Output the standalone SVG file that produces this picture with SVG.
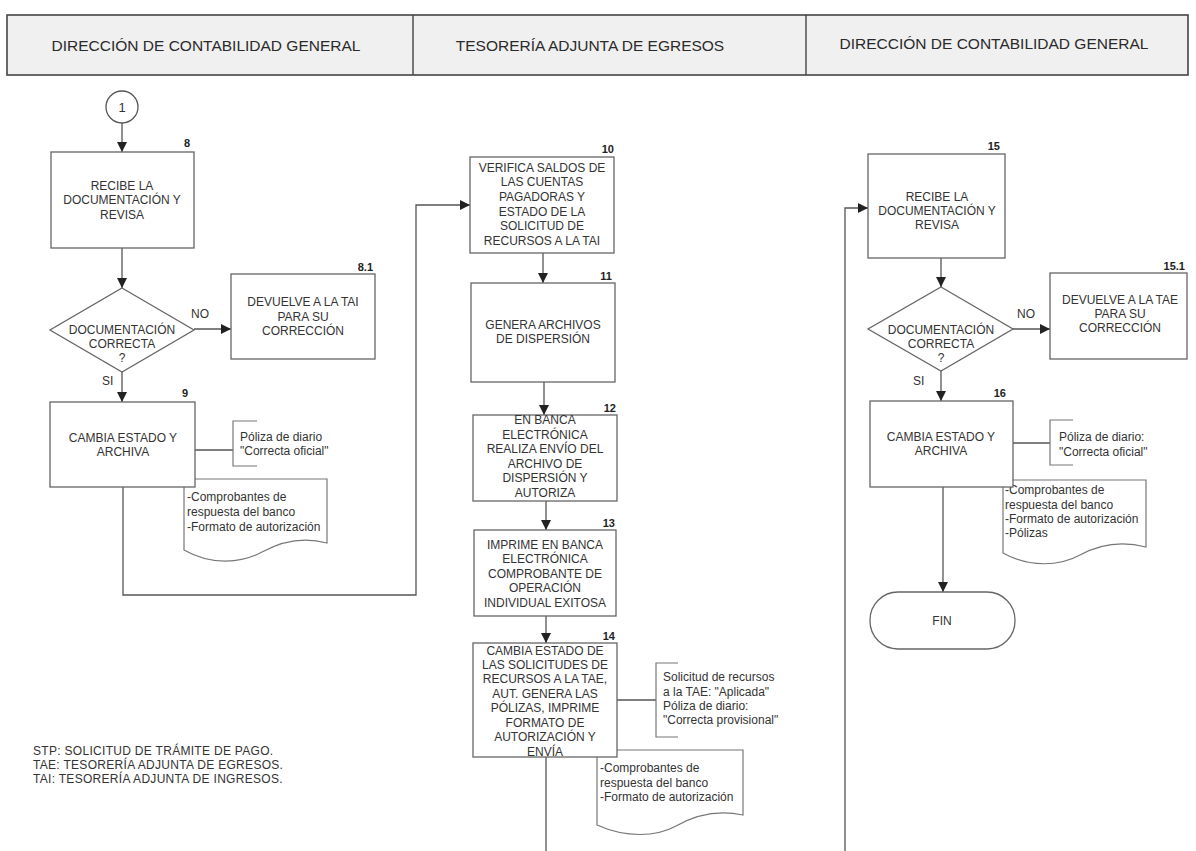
<svg xmlns="http://www.w3.org/2000/svg" width="1196" height="851" viewBox="0 0 1196 851">
  <defs>
    <marker id="arrow" viewBox="0 0 10 10" refX="10" refY="5" markerWidth="10" markerHeight="10" markerUnits="userSpaceOnUse" orient="auto">
      <path d="M0,0 L10,5 L0,10 Z" fill="#222"/>
    </marker>
    <style>
      text { font-family: "Liberation Sans", Arial, sans-serif; fill: #333; }
      .hdr { font-size: 15.5px; text-anchor: middle; fill: #2a2a2a; }
      .lbl { font-size: 12px; text-anchor: middle; }
      .num { font-size: 11px; font-weight: bold; text-anchor: end; fill: #222; }
      .note { font-size: 12px; }
      .leg { font-size: 12px; letter-spacing: 0.3px; }
      .box { fill: #fff; stroke: #666; stroke-width: 1.3; }
      .doc { fill: #fff; stroke: #777; stroke-width: 1.2; }
      .brk { fill: none; stroke: #777; stroke-width: 1.2; }
      .wire { fill: none; stroke: #555; stroke-width: 1.3; }
      .arw { fill: none; stroke: #555; stroke-width: 1.3; marker-end: url(#arrow); }
    </style>
  </defs>
  <rect width="1196" height="851" fill="#fff"/>

  <!-- swimlane header -->
  <g id="header">
    <rect x="7" y="15" width="1181" height="60" fill="#f0f0f0" stroke="#444" stroke-width="1.6"/>
    <line x1="413" y1="15" x2="413" y2="75" stroke="#444" stroke-width="1.4"/>
    <line x1="806" y1="15" x2="806" y2="75" stroke="#444" stroke-width="1.4"/>
    <text class="hdr" x="206" y="51">DIRECCIÓN DE CONTABILIDAD GENERAL</text>
    <text class="hdr" x="590" y="51">TESORERÍA ADJUNTA DE EGRESOS</text>
    <text class="hdr" x="994" y="49">DIRECCIÓN DE CONTABILIDAD GENERAL</text>
  </g>

  <!-- connectors -->
  <g id="connectors">
    <line class="arw" x1="122" y1="123" x2="122" y2="152"/>
    <line class="arw" x1="122" y1="248" x2="122" y2="288"/>
    <line class="arw" x1="194" y1="329" x2="231" y2="329"/>
    <line class="arw" x1="122" y1="372" x2="122" y2="402"/>
    <line class="wire" x1="195" y1="450" x2="233" y2="450"/>
    <polyline class="arw" points="123,487 123,595 416,595 416,205 470,205"/>
    <line class="arw" x1="543" y1="253" x2="543" y2="283"/>
    <line class="arw" x1="544" y1="382" x2="544" y2="415"/>
    <line class="arw" x1="546" y1="501" x2="546" y2="530"/>
    <line class="arw" x1="546" y1="616" x2="546" y2="643"/>
    <line class="wire" x1="617" y1="700" x2="656" y2="700"/>
    <line class="wire" x1="546" y1="757" x2="546" y2="851"/>
    <polyline class="arw" points="845,851 845,208 868,208"/>
    <line class="arw" x1="941" y1="258" x2="941" y2="287"/>
    <line class="arw" x1="1013" y1="329" x2="1050" y2="329"/>
    <line class="arw" x1="941" y1="371" x2="941" y2="401"/>
    <line class="wire" x1="1013" y1="443" x2="1050" y2="443"/>
    <line class="arw" x1="943" y1="487" x2="943" y2="592"/>
  </g>

  <!-- off-page connector 1 -->
  <g id="n-conector-1">
    <circle cx="122" cy="107" r="16" fill="#fff" stroke="#555" stroke-width="1.3"/>
    <text class="lbl" x="122" y="112" style="font-size:13px">1</text>
  </g>

  <!-- step 8 -->
  <g id="n-8">
    <rect class="box" x="51" y="152" width="143" height="96"/>
    <text class="num" x="190" y="147">8</text>
    <text class="lbl" x="122" y="190">RECIBE LA</text>
    <text class="lbl" x="122" y="204">DOCUMENTACIÓN Y</text>
    <text class="lbl" x="122" y="219">REVISA</text>
  </g>

  <!-- decision after step 8 -->
  <g id="n-decision-8">
    <polygon class="box" points="122,288 194,330 122,372 50,330"/>
    <text class="lbl" x="122" y="334">DOCUMENTACIÓN</text>
    <text class="lbl" x="122" y="348">CORRECTA</text>
    <text class="lbl" x="122" y="362">?</text>
    <text class="note" x="191" y="318">NO</text>
    <text class="note" x="102" y="385">SI</text>
  </g>

  <!-- step 8.1 -->
  <g id="n-8-1">
    <rect class="box" x="231" y="274" width="144" height="85"/>
    <text class="num" x="373" y="271">8.1</text>
    <text class="lbl" x="303" y="306">DEVUELVE A LA TAI</text>
    <text class="lbl" x="303" y="321">PARA SU</text>
    <text class="lbl" x="303" y="335">CORRECCIÓN</text>
  </g>

  <!-- step 9 with its notes -->
  <g id="n-9">
    <path class="doc" d="M184,479 H327 V543 C305,537 282,541 262,552 C242,563 212,566 184,550 Z"/>
    <text class="note" x="187" y="501">-Comprobantes de</text>
    <text class="note" x="187" y="516">respuesta del banco</text>
    <text class="note" x="187" y="531">-Formato de autorización</text>
    <rect class="box" x="50" y="402" width="145" height="85"/>
    <text class="num" x="188" y="397">9</text>
    <text class="lbl" x="123" y="442">CAMBIA ESTADO Y</text>
    <text class="lbl" x="123" y="456">ARCHIVA</text>
    <path class="brk" d="M257,421 H233 V466 H257"/>
    <text class="note" x="240" y="441">Póliza de diario</text>
    <text class="note" x="240" y="455">"Correcta oficial"</text>
  </g>

  <!-- step 10 -->
  <g id="n-10">
    <rect class="box" x="470" y="157" width="144" height="96"/>
    <text class="num" x="614" y="153">10</text>
    <text class="lbl" x="542" y="172">VERIFICA SALDOS DE</text>
    <text class="lbl" x="542" y="186">LAS CUENTAS</text>
    <text class="lbl" x="542" y="201">PAGADORAS Y</text>
    <text class="lbl" x="542" y="216">ESTADO DE LA</text>
    <text class="lbl" x="542" y="230">SOLICITUD DE</text>
    <text class="lbl" x="542" y="245">RECURSOS A LA TAI</text>
  </g>

  <!-- step 11 -->
  <g id="n-11">
    <rect class="box" x="471" y="283" width="144" height="99"/>
    <text class="num" x="612" y="280">11</text>
    <text class="lbl" x="543" y="329">GENERA ARCHIVOS</text>
    <text class="lbl" x="543" y="343">DE DISPERSIÓN</text>
  </g>

  <!-- step 12 -->
  <g id="n-12">
    <rect class="box" x="473" y="415" width="144" height="86"/>
    <text class="num" x="616" y="412">12</text>
    <text class="lbl" x="545" y="424">EN BANCA</text>
    <text class="lbl" x="545" y="439">ELECTRÓNICA</text>
    <text class="lbl" x="545" y="453">REALIZA ENVÍO DEL</text>
    <text class="lbl" x="545" y="468">ARCHIVO DE</text>
    <text class="lbl" x="545" y="482">DISPERSIÓN Y</text>
    <text class="lbl" x="545" y="497">AUTORIZA</text>
  </g>

  <!-- step 13 -->
  <g id="n-13">
    <rect class="box" x="474" y="530" width="142" height="86"/>
    <text class="num" x="615" y="527">13</text>
    <text class="lbl" x="545" y="549">IMPRIME EN BANCA</text>
    <text class="lbl" x="545" y="563">ELECTRÓNICA</text>
    <text class="lbl" x="545" y="578">COMPROBANTE DE</text>
    <text class="lbl" x="545" y="592">OPERACIÓN</text>
    <text class="lbl" x="545" y="607">INDIVIDUAL EXITOSA</text>
  </g>

  <!-- step 14 with its notes -->
  <g id="n-14">
    <path class="doc" d="M597,750 H743 V815 C720,810 697,814 676,826 C656,837 626,838 597,825 Z"/>
    <text class="note" x="600" y="772">-Comprobantes de</text>
    <text class="note" x="600" y="787">respuesta del banco</text>
    <text class="note" x="600" y="801">-Formato de autorización</text>
    <rect class="box" x="473" y="643" width="144" height="114"/>
    <text class="num" x="615" y="640">14</text>
    <text class="lbl" x="545" y="655">CAMBIA ESTADO DE</text>
    <text class="lbl" x="545" y="669">LAS SOLICITUDES DE</text>
    <text class="lbl" x="545" y="683">RECURSOS A LA TAE,</text>
    <text class="lbl" x="545" y="698">AUT. GENERA LAS</text>
    <text class="lbl" x="545" y="712">PÓLIZAS, IMPRIME</text>
    <text class="lbl" x="545" y="727">FORMATO DE</text>
    <text class="lbl" x="545" y="741">AUTORIZACIÓN Y</text>
    <text class="lbl" x="545" y="756">ENVÍA</text>
    <path class="brk" d="M678,663 H656 V737 H678"/>
    <text class="note" x="663" y="681">Solicitud de recursos</text>
    <text class="note" x="663" y="696">a la TAE: "Aplicada"</text>
    <text class="note" x="663" y="710">Póliza de diario:</text>
    <text class="note" x="663" y="724">"Correcta provisional"</text>
  </g>

  <!-- step 15 -->
  <g id="n-15">
    <rect class="box" x="868" y="154" width="137" height="104"/>
    <text class="num" x="1000" y="150">15</text>
    <text class="lbl" x="937" y="201">RECIBE LA</text>
    <text class="lbl" x="937" y="215">DOCUMENTACIÓN Y</text>
    <text class="lbl" x="937" y="229">REVISA</text>
  </g>

  <!-- decision after step 15 -->
  <g id="n-decision-15">
    <polygon class="box" points="941,287 1013,329 941,371 868,329"/>
    <text class="lbl" x="941" y="334">DOCUMENTACIÓN</text>
    <text class="lbl" x="941" y="348">CORRECTA</text>
    <text class="lbl" x="941" y="362">?</text>
    <text class="note" x="1017" y="318">NO</text>
    <text class="note" x="913" y="385">SI</text>
  </g>

  <!-- step 15.1 -->
  <g id="n-15-1">
    <rect class="box" x="1050" y="273" width="137" height="86"/>
    <text class="num" x="1185" y="270">15.1</text>
    <text class="lbl" x="1120" y="304">DEVUELVE A LA TAE</text>
    <text class="lbl" x="1120" y="318">PARA SU</text>
    <text class="lbl" x="1120" y="332">CORRECCIÓN</text>
  </g>

  <!-- step 16 with its notes -->
  <g id="n-16">
    <path class="doc" d="M1003,480 H1146 V547 C1123,541 1100,544 1080,555 C1060,566 1030,568 1003,553 Z"/>
    <text class="note" x="1005" y="494">-Comprobantes de</text>
    <text class="note" x="1005" y="509">respuesta del banco</text>
    <text class="note" x="1005" y="523">-Formato de autorización</text>
    <text class="note" x="1005" y="537">-Pólizas</text>
    <rect class="box" x="870" y="401" width="143" height="86"/>
    <text class="num" x="1006" y="397">16</text>
    <text class="lbl" x="941" y="441">CAMBIA ESTADO Y</text>
    <text class="lbl" x="941" y="455">ARCHIVA</text>
    <path class="brk" d="M1073,420 H1050 V465 H1073"/>
    <text class="note" x="1059" y="441">Póliza de diario:</text>
    <text class="note" x="1059" y="456">"Correcta oficial"</text>
  </g>

  <!-- end terminator -->
  <g id="n-fin">
    <rect class="box" x="870" y="592" width="145" height="57" rx="28" ry="28"/>
    <text class="lbl" x="942" y="625">FIN</text>
  </g>

  <!-- abbreviations -->
  <g id="legend">
    <text class="leg" x="33" y="755">STP: SOLICITUD DE TRÁMITE DE PAGO.</text>
    <text class="leg" x="33" y="769">TAE: TESORERÍA ADJUNTA DE EGRESOS.</text>
    <text class="leg" x="33" y="783">TAI: TESORERÍA ADJUNTA DE INGRESOS.</text>
  </g>
</svg>
